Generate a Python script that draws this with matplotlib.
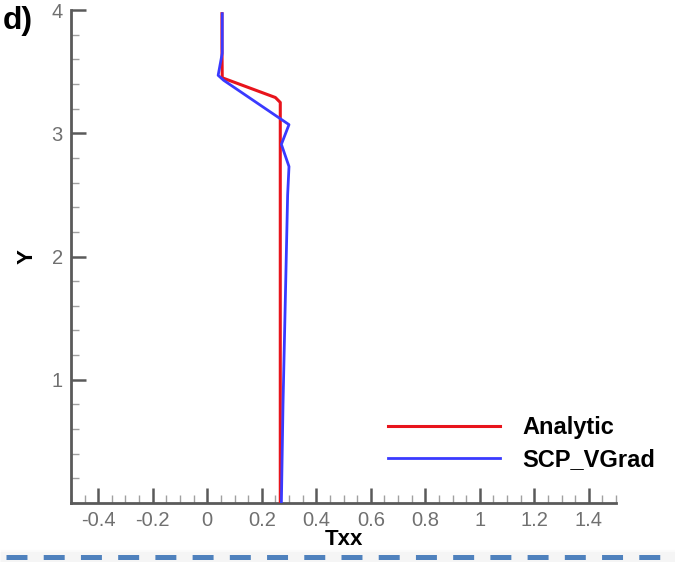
import numpy as np
import matplotlib.pyplot as plt
from matplotlib.ticker import MultipleLocator, FixedLocator

plt.rcParams['font.family'] = ['Liberation Sans', 'DejaVu Sans']

# Txx profiles along Y
analytic_txx = [0.268, 0.268, 0.25, 0.055, 0.054, 0.054]
analytic_y = [0.0, 3.25, 3.29, 3.45, 3.70, 3.97]

vgrad_txx = [0.272, 0.278, 0.288, 0.295, 0.300, 0.272, 0.300, 0.060, 0.040, 0.055, 0.055, 0.055]
vgrad_y = [0.0, 0.8, 1.8, 2.5, 2.73, 2.91, 3.07, 3.43, 3.47, 3.65, 3.80, 3.97]

x_ticks = [-0.4, -0.2, 0, 0.2, 0.4, 0.6, 0.8, 1, 1.2, 1.4]
x_tick_labels = ['-0.4', '-0.2', '0', '0.2', '0.4', '0.6', '0.8', '1', '1.2', '1.4']
y_ticks = [1, 2, 3, 4]

axis_grey = '#5a5a5a'
label_grey = '#707070'

fig = plt.figure(figsize=(6.75, 5.62), dpi=100)
ax = fig.add_axes([71 / 675, 59 / 562, 545 / 675, 493 / 562])

ax.plot(analytic_txx, analytic_y, color='#e8141c', linewidth=2.2, label='Analytic', zorder=3)
ax.plot(vgrad_txx, vgrad_y, color='#3a3aff', linewidth=2.0, label='SCP_VGrad', zorder=4)

ax.set_xlim(-0.5, 1.5)
ax.set_ylim(0, 4)

for side in ('top', 'right'):
    ax.spines[side].set_visible(False)
for side in ('left', 'bottom'):
    ax.spines[side].set_color(axis_grey)
    ax.spines[side].set_linewidth(2.0)

ax.xaxis.set_major_locator(FixedLocator(x_ticks))
ax.set_xticklabels(x_tick_labels)
ax.xaxis.set_minor_locator(MultipleLocator(0.05))
ax.yaxis.set_major_locator(FixedLocator(y_ticks))
ax.yaxis.set_minor_locator(MultipleLocator(0.2))

ax.tick_params(which='major', direction='in', length=11, width=1.8, color=axis_grey,
               labelcolor=label_grey, labelsize=14.5, pad=6)
ax.tick_params(which='minor', direction='in', length=6, width=1.0, color='#a0a0a0')

ax.set_xlabel('Txx', fontsize=16, fontweight='bold', labelpad=-1)
ax.set_ylabel('Y', fontsize=16, fontweight='bold', labelpad=10)

leg = ax.legend(loc='upper left', bbox_to_anchor=(388 / 675, 1 - 416 / 562),
                bbox_transform=fig.transFigure, frameon=False, borderpad=0, borderaxespad=0,
                prop={'size': 17, 'weight': 'bold'}, handlelength=4.75, handletextpad=0.93,
                labelspacing=0.38)

fig.text(3 / 675, 0.963, 'd)', fontsize=23, fontweight='bold', va='center', ha='left')

# dashed separator under the panel, with a soft grey shadow
sep = fig.add_axes([0, 0, 1, 1], zorder=-1)
sep.set_xlim(0, 675)
sep.set_ylim(562, 0)
sep.axis('off')
for w, a in ((11, 0.04), (8, 0.06)):
    sep.plot([0, 675], [557, 557], color='#9a9a9a', linewidth=w, alpha=a, solid_capstyle='butt')
sep.plot([6, 675], [557, 557], color='#4f81bd', linewidth=3.6,
         dashes=(15.1 / 3.6, 11.7 / 3.6), solid_capstyle='butt')

fig.savefig('out.png', dpi=100)
